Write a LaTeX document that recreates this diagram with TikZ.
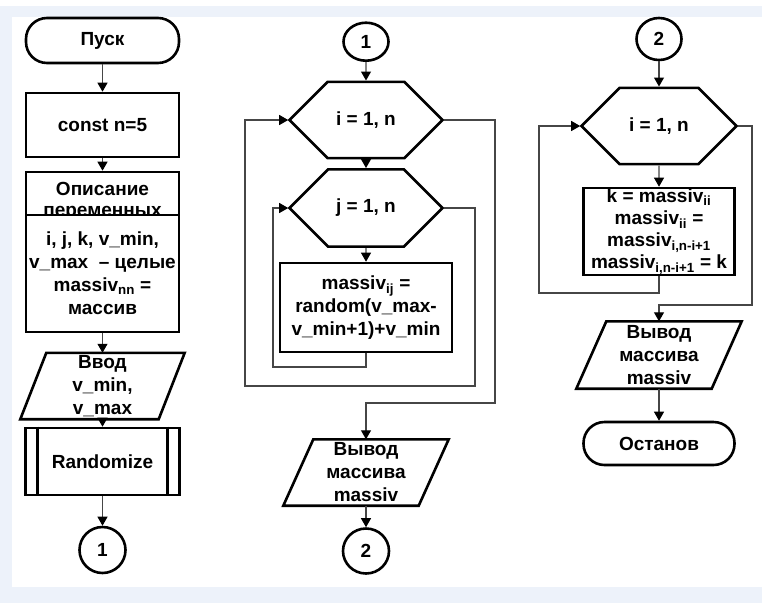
\documentclass[tikz,border=0pt]{standalone}
\usepackage{fontspec}
\setmainfont{Liberation Sans}
\usetikzlibrary{shapes.geometric,shapes.misc,arrows.meta}
\definecolor{band}{RGB}{237,242,250}
\definecolor{conncol}{RGB}{70,70,70}
\begin{document}
\begin{tikzpicture}[x=1pt,y=-1pt,
  every node/.style={font=\fontsize{19}{23}\selectfont\bfseries, inner sep=0pt, align=center},
  shp/.style={draw=black, line width=2.6pt, fill=white},
  proc/.style={shp, rectangle},
  term/.style={shp, rectangle, rounded corners=21pt},
  io/.style={rectangle},
  ioline/.style={draw=black, line width=2.6pt, line join=miter},
  loophex/.style={shp, chamfered rectangle, chamfered rectangle xsep=20pt, chamfered rectangle ysep=32.5pt},
  conn/.style={draw=conncol, line width=1.1pt},
  arr/.style={conn, -{Triangle[length=9pt,width=10pt,color=black]}},
  conlbl/.style={shp, ellipse}
]
\useasboundingbox (0,0) rectangle (762,603);
\fill[white] (0,0) rectangle (762,603);
\fill[band] (0,6) rectangle (762,603);
\fill[white] (12,17) rectangle (762,587);

% ---------- left column ----------
\node[term, minimum width=153, minimum height=45] (start) at (102.5,40.5) {Пуск};
\node[proc, minimum width=153, minimum height=64] (const) at (102.5,125) {const n=5};
\node[proc, minimum width=153, minimum height=43] (dhead) at (102.5,193.5) {};
\node[font=\fontsize{19}{21}\selectfont\bfseries] (dheadT) at (102.5,201) {Описание\\переменных};
\node[proc, minimum width=153, minimum height=117] (dbody) at (102.5,273.5)
  {i, j, k, v\_min,\\v\_max\ \ – целые\\massiv\textsubscript{nn} =\\массив};
\node[io, minimum width=164, minimum height=66] (input) at (102.5,386) {Ввод\\v\_min,\\v\_max};
\draw[ioline] ([xshift=26pt]input.north west) -- (input.north east)
  -- ([xshift=-26pt]input.south east) -- (input.south west) -- cycle;
\node[proc, minimum width=154, minimum height=67] (rnd) at (102.5,461.5) {Randomize};
\draw[line width=2.6pt] ([xshift=13.5pt]rnd.north west) -- ([xshift=13.5pt]rnd.south west);
\draw[line width=2.6pt] ([xshift=-13.5pt]rnd.north east) -- ([xshift=-13.5pt]rnd.south east);
\node[conlbl, minimum width=46, minimum height=46] (con1a) at (102.5,550) {1};

\draw[arr] (start) -- (const);
\draw[arr] (const) -- (dhead);
\draw[arr] (dbody) -- (input);
\draw[arr] (input) -- (rnd);
\draw[arr] (rnd) -- (con1a);

% ---------- middle column ----------
\node[conlbl, minimum width=45, minimum height=38] (con1b) at (366,41.7) {1};
\node[loophex, minimum width=153, minimum height=65] (hexI) at (366,120) {i = 1, n};
\node[loophex, minimum width=153, minimum height=65] (hexJ) at (366,208) {j = 1, n};
\node[proc, minimum width=172, minimum height=89] (mbox) at (366,307.5)
  {massiv\textsubscript{ij} =\\random(v\_max-\\v\_min+1)+v\_min};
\node[io, minimum width=165, minimum height=66] (out2) at (366,472.5) {Вывод\\массива\\massiv};
\draw[ioline] ([xshift=30pt]out2.north west) -- (out2.north east)
  -- ([xshift=-30pt]out2.south east) -- (out2.south west) -- cycle;
\node[conlbl, minimum width=46, minimum height=45] (con2a) at (366,551) {2};

\coordinate (m1) at (273,367);
\coordinate (m2) at (475,386);
\coordinate (m3) at (245,386);
\coordinate (m4) at (495,403);

\draw[arr] (con1b) -- (hexI);
\draw[arr] (hexI) -- (hexJ);
\draw[arr] (hexJ) -- (mbox);
\draw[arr] (mbox.south) |- (m1) |- (hexJ.west);
\draw[arr] (hexJ.east) -| (m2) -- (m3) |- (hexI.west);
\draw[arr] (hexI.east) -| (m4) -| (out2.north);
\draw[arr] (out2) -- (con2a);

% ---------- right column ----------
\node[conlbl, minimum width=45, minimum height=42] (con2b) at (659,39) {2};
\node[loophex, minimum width=155, minimum height=65, chamfered rectangle xsep=23pt] (hexR) at (659,126) {i = 1, n};
\node[proc, minimum width=151, minimum height=87, font=\fontsize{19}{22.3}\selectfont\bfseries] (rbox) at (659,231.5)
  {k = massiv\textsubscript{ii}\\massiv\textsubscript{ii} =\\massiv\textsubscript{i,n-i+1}\\massiv\textsubscript{i,n-i+1} = k};
\node[io, minimum width=165, minimum height=67] (out3) at (659,355) {Вывод\\массива\\massiv};
\draw[ioline] ([xshift=30pt]out3.north west) -- (out3.north east)
  -- ([xshift=-30pt]out3.south east) -- (out3.south west) -- cycle;
\node[term, minimum width=151, minimum height=43] (stop) at (659,443.5) {Останов};

\coordinate (r1) at (539,293);
\coordinate (r2) at (752,305);

\draw[arr] (con2b) -- (hexR);
\draw[arr] (hexR) -- (rbox);
\draw[arr] (rbox.south) |- (r1) |- (hexR.west);
\draw[arr] (hexR.east) -| (r2) -| (out3.north);
\draw[arr] (out3) -- (stop);
\end{tikzpicture}
\end{document}
